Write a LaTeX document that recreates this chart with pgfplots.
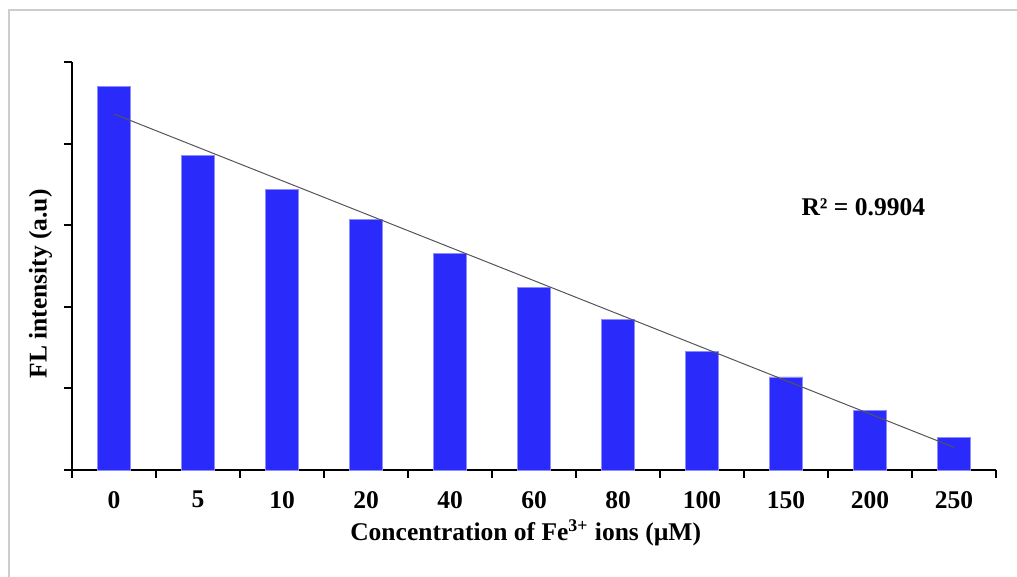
\documentclass[border=0pt]{standalone}
\usepackage{fontspec}
\setmainfont{Liberation Serif}
\usepackage{pgfplots}
\pgfplotsset{compat=1.18}
\definecolor{barblue}{RGB}{42,42,250}
\definecolor{baredge}{RGB}{140,140,255}
\definecolor{trend}{RGB}{85,85,85}
\definecolor{frame}{RGB}{205,205,205}
\begin{document}
\begin{tikzpicture}
\useasboundingbox (0,0) rectangle (508.5bp,288.5bp);
\draw[frame, line width=0.6bp] (4.5bp,0) -- (4.5bp,283.5bp) -- (508.5bp,283.5bp);
\begin{axis}[
  at={(36bp,53.5bp)}, anchor=south west,
  scale only axis, width=462bp, height=204bp,
  xmin=-0.5, xmax=10.5, ymin=0, ymax=5,
  axis x line*=bottom, axis y line*=left,
  axis line style={line width=1.2bp, -},
  xtick={0,...,10},
  xticklabels={0,5,10,20,40,60,80,100,150,200,250},
  minor xtick={-0.5,0.5,...,10.5},
  ytick={0,...,5}, yticklabels={},
  major x tick style={draw=none},
  minor x tick style={line width=1.0bp, black, draw=black},
  ytick style={line width=1.0bp, black},
  major tick length=4bp, minor tick length=4bp,
  tick align=outside,
  /pgf/number format/assume math mode=true,
  ticklabel style={font=\bfseries\fontsize{12.8}{14}\selectfont},
  xticklabel style={yshift=-3bp},
  xlabel={Concentration of Fe\textsuperscript{3+} ions (µM)},
  ylabel={FL intensity (a.u)},
  xlabel style={font=\bfseries\fontsize{12.8}{14}\selectfont, at={(axis description cs:0.491,-0.154)}, anchor=center},
  ylabel style={font=\bfseries\fontsize{12.8}{14}\selectfont, at={(axis description cs:-0.034,0.456)}, anchor=center, rotate=0},
  clip=false,
]
\addplot[ybar, bar width=0.4, bar shift=0pt, fill=barblue, draw=baredge, line width=0.4bp]
  coordinates {(0,4.70) (1,3.86) (2,3.44) (3,3.07) (4,2.65) (5,2.24) (6,1.85) (7,1.45) (8,1.14) (9,0.735) (10,0.396)};
\addplot[trend, line width=0.5bp, no marks] coordinates {(0,4.363) (10,0.278)};
\node[font=\bfseries\fontsize{12.8}{14}\selectfont] at (axis cs:8.92,3.22) {R² = 0.9904};
\end{axis}
\end{tikzpicture}
\end{document}
